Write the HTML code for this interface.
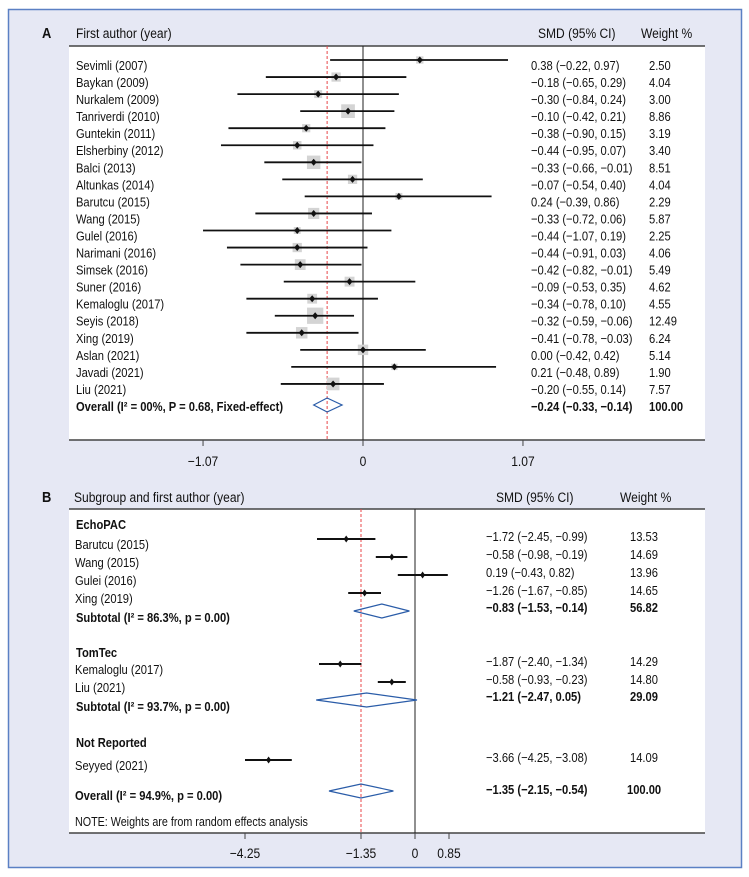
<!DOCTYPE html>
<html><head><meta charset="utf-8">
<style>
html,body{margin:0;padding:0;background:#fff;}
svg{display:block;}
text{font-family:"Liberation Sans",sans-serif;font-size:13px;fill:#111;}
</style></head>
<body>
<svg id="chart" width="749" height="877" viewBox="0 0 749 877"></svg>
<script>
// Panel A data
const aNames=["Sevimli (2007)","Baykan (2009)","Nurkalem (2009)","Tanriverdi (2010)","Guntekin (2011)","Elsherbiny (2012)","Balci (2013)","Altunkas (2014)","Barutcu (2015)","Wang (2015)","Gulel (2016)","Narimani (2016)","Simsek (2016)","Suner (2016)","Kemaloglu (2017)","Seyis (2018)","Xing (2019)","Aslan (2021)","Javadi (2021)","Liu (2021)"];
const aSmd=[0.38,-0.18,-0.30,-0.10,-0.38,-0.44,-0.33,-0.07,0.24,-0.33,-0.44,-0.44,-0.42,-0.09,-0.34,-0.32,-0.41,0.00,0.21,-0.20];
const aLo=[-0.22,-0.65,-0.84,-0.42,-0.90,-0.95,-0.66,-0.54,-0.39,-0.72,-1.07,-0.91,-0.82,-0.53,-0.78,-0.59,-0.78,-0.42,-0.48,-0.55];
const aHi=[0.97,0.29,0.24,0.21,0.15,0.07,-0.01,0.40,0.86,0.06,0.19,0.03,-0.01,0.35,0.10,-0.06,-0.03,0.42,0.89,0.14];
const aW=[2.50,4.04,3.00,8.86,3.19,3.40,8.51,4.04,2.29,5.87,2.25,4.06,5.49,4.62,4.55,12.49,6.24,5.14,1.90,7.57];
const aOverall=[-0.24,-0.33,-0.14];
const aTicks=[-1.07,0,1.07];
const aTickLabels=["\u22121.07","0","1.07"];
// Panel B data
const bGroups=["EchoPAC","TomTec","Not Reported"];
const bGroupOf=[0,0,0,0,1,1,2];
const bNames=["Barutcu (2015)","Wang (2015)","Gulei (2016)","Xing (2019)","Kemaloglu (2017)","Liu (2021)","Seyyed (2021)"];
const bSmd=[-1.72,-0.58,0.19,-1.26,-1.87,-0.58,-3.66];
const bLo=[-2.45,-0.98,-0.43,-1.67,-2.40,-0.93,-4.25];
const bHi=[-0.99,-0.19,0.82,-0.85,-1.34,-0.23,-3.08];
const bW=[13.53,14.69,13.96,14.65,14.29,14.80,14.09];
const bSubSmd=[-0.83,-1.21];
const bSubLo=[-1.53,-2.47];
const bSubHi=[-0.14,0.05];
const bSubW=[56.82,29.09];
const bSubLabels=["Subtotal (I\u00B2 = 86.3%, p = 0.00)","Subtotal (I\u00B2 = 93.7%, p = 0.00)"];
const bOverall=[-1.35,-2.15,-0.54];
const bTicks=[-4.25,-1.35,0,0.85];
const bTickLabels=["\u22124.25","\u22121.35","0","0.85"];

const NS="http://www.w3.org/2000/svg";
const svg=document.getElementById('chart');
function el(tag,attrs,parent){const e=document.createElementNS(NS,tag);for(const k in attrs)e.setAttribute(k,attrs[k]);(parent||svg).appendChild(e);return e;}
const SX=0.86;
function txt(x,y,s,opts){opts=opts||{};const t=el('text',{x:(x/SX).toFixed(2),y:y,transform:'scale('+SX+',1)'});
 if(opts.bold)t.setAttribute('font-weight','bold');if(opts.anchor)t.setAttribute('text-anchor',opts.anchor);if(opts.size)t.setAttribute('style','font-size:'+opts.size+'px');t.textContent=s;return t;}
function fmt(v){return (v<0?"\u2212":"")+Math.abs(v).toFixed(2);}
function ci(m,l,h){return fmt(m)+" ("+fmt(l)+", "+fmt(h)+")";}

let e=el('rect',{x:8.5,y:9.5,width:733,height:858,fill:'#e6e8f4',stroke:'#5b80c4','stroke-width':1.5});


// ===== Panel A =====
const ax=v=>363+v*149.5;
e=el('rect',{x:69,y:46,width:636,height:394,fill:'#fff'});

el('line',{x1:69,x2:705,y1:46,y2:46,stroke:'#444','stroke-width':1.5});
el('line',{x1:69,x2:705,y1:440,y2:440,stroke:'#444','stroke-width':1.5});
e=txt(42,38,"A",{bold:true,size:15});
e=txt(76,38,"First author (year)",{size:14});
e=txt(538,38,"SMD (95% CI)",{size:14});
e=txt(641,38,"Weight %",{size:14});
el('line',{x1:ax(0),x2:ax(0),y1:46,y2:440,stroke:'#222','stroke-width':1});
e=el('line',{x1:ax(aOverall[0]),x2:ax(aOverall[0]),y1:46,y2:440,stroke:'#e8474a','stroke-width':1,'stroke-dasharray':'3,2'});

aTicks.forEach((t,i)=>{el('line',{x1:ax(t),x2:ax(t),y1:440,y2:446,stroke:'#444'});
 const l=txt(ax(t),466,aTickLabels[i],{anchor:'middle',size:14});});
const aRowY=i=>66+i*17.05;
aNames.forEach((n,i)=>{
 const y=aRowY(i), ly=y-6;
 const g=el('g',{});
 const s=Math.sqrt(aW[i])*4.6;
 el('rect',{x:ax(aSmd[i])-s/2,y:ly-s/2,width:s,height:s,fill:'#d4d4d4'},g);
 el('line',{x1:ax(aLo[i]),x2:ax(aHi[i]),y1:ly,y2:ly,stroke:'#111','stroke-width':1.8},g);
 el('path',{d:`M${ax(aSmd[i])} ${ly-3.5}L${ax(aSmd[i])+3} ${ly}L${ax(aSmd[i])} ${ly+3.5}L${ax(aSmd[i])-3} ${ly}Z`,fill:'#111'},g);
 g.appendChild(txt(76,y+4,n));
 g.appendChild(txt(531,y+4,ci(aSmd[i],aLo[i],aHi[i])));
 g.appendChild(txt(649,y+4,aW[i].toFixed(2)));
});
{const y=aRowY(20);
 e=el('path',{d:`M${ax(aOverall[1])} ${y-2}L${ax(aOverall[0])} ${y-9}L${ax(aOverall[2])} ${y-2}L${ax(aOverall[0])} ${y+5}Z`,fill:'none',stroke:'#2a5ca8','stroke-width':1.2});
 
 txt(76,y+4,"Overall (I\u00B2 = 00%, P = 0.68, Fixed-effect)",{bold:true});
 txt(531,y+4,ci(aOverall[0],aOverall[1],aOverall[2]),{bold:true});
 txt(649,y+4,"100.00",{bold:true});}

// ===== Panel B =====
const bx=v=>415+v*40;
e=el('rect',{x:69,y:509,width:636,height:324,fill:'#fff'});

el('line',{x1:69,x2:705,y1:509,y2:509,stroke:'#444','stroke-width':1.5});
el('line',{x1:69,x2:705,y1:833,y2:833,stroke:'#444','stroke-width':1.5});
e=txt(42,502,"B",{bold:true,size:15});
e=txt(74,502,"Subgroup and first author (year)",{size:14});
e=txt(496,502,"SMD (95% CI)",{size:14});
e=txt(620,502,"Weight %",{size:14});
el('line',{x1:bx(0),x2:bx(0),y1:509,y2:833,stroke:'#222','stroke-width':1});
e=el('line',{x1:bx(bOverall[0]),x2:bx(bOverall[0]),y1:509,y2:833,stroke:'#e8474a','stroke-width':1,'stroke-dasharray':'3,2'});

bTicks.forEach((t,i)=>{el('line',{x1:bx(t),x2:bx(t),y1:833,y2:839,stroke:'#444'});
 const l=txt(bx(t),858,bTickLabels[i],{anchor:'middle',size:14});});
const groupY=[529,657,747];
const studyLineY=[539,557,575,593,664,682,760];
const subY=[611,700];
bGroups.forEach((gname,gi)=>{const t=txt(76,groupY[gi],gname,{bold:true});});
bNames.forEach((n,i)=>{
 const ly=studyLineY[i];
 const g=el('g',{});
 el('line',{x1:bx(bLo[i]),x2:bx(bHi[i]),y1:ly,y2:ly,stroke:'#111','stroke-width':2},g);
 el('path',{d:`M${bx(bSmd[i])} ${ly-3.5}L${bx(bSmd[i])+2.5} ${ly}L${bx(bSmd[i])} ${ly+3.5}L${bx(bSmd[i])-2.5} ${ly}Z`,fill:'#111'},g);
 g.appendChild(txt(75,ly+10,n));
 g.appendChild(txt(486,ly+2,ci(bSmd[i],bLo[i],bHi[i])));
 g.appendChild(txt(630,ly+2,bW[i].toFixed(2)));
});
bSubSmd.forEach((m,k)=>{const y=subY[k];
 const d=el('path',{d:`M${bx(bSubLo[k])} ${y}L${bx(m)} ${y-7}L${bx(bSubHi[k])} ${y}L${bx(m)} ${y+7}Z`,fill:'none',stroke:'#2a5ca8','stroke-width':1.2});
 
 txt(76,y+11,bSubLabels[k],{bold:true});
 txt(486,y+1,ci(m,bSubLo[k],bSubHi[k]),{bold:true});
 txt(630,y+1,bSubW[k].toFixed(2),{bold:true});});
{const y=791;
 e=el('path',{d:`M${bx(bOverall[1])} ${y}L${bx(bOverall[0])} ${y-7}L${bx(bOverall[2])} ${y}L${bx(bOverall[0])} ${y+7}Z`,fill:'none',stroke:'#2a5ca8','stroke-width':1.2});
 
 txt(75,800,"Overall (I\u00B2 = 94.9%, p = 0.00)",{bold:true});
 txt(486,794,ci(bOverall[0],bOverall[1],bOverall[2]),{bold:true});
 txt(627,794,"100.00",{bold:true});}
e=txt(75,826,"NOTE: Weights are from random effects analysis",{size:12.5});

</script>
</body></html>
